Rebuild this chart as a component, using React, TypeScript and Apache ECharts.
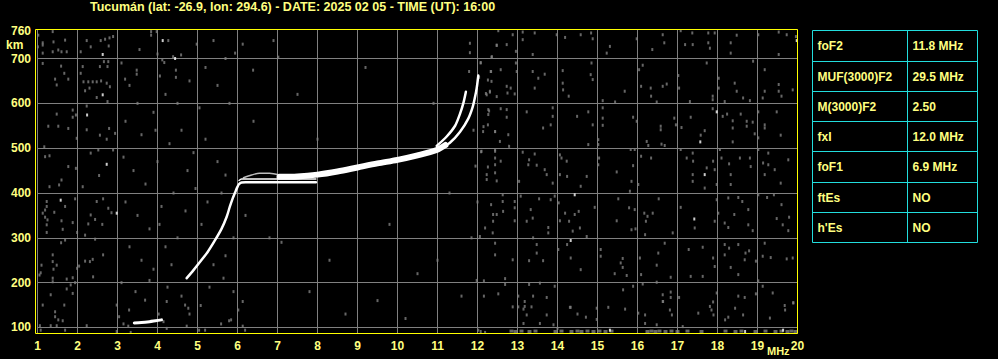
import React, { useEffect, useRef } from 'react';
import * as echarts from 'echarts';

const TITLE = 'Tucumán (lat: -26.9, lon: 294.6) - DATE: 2025 02 05 - TIME (UT): 16:00';
const X_TICKS = [1, 2, 3, 4, 5, 6, 7, 8, 9, 10, 11, 12, 13, 14, 15, 16, 17, 18, 19, 20];
const Y_TICKS = [100, 200, 300, 400, 500, 600, 700];
const Y_TOP_LABEL = 760;
const X_UNIT = 'MHz';
const Y_UNIT = 'km';

const TABLE_PARAMS = ['foF2', 'MUF(3000)F2', 'M(3000)F2', 'fxI', 'foF1', 'ftEs', "h'Es"];
const TABLE_VALUES = ['11.8 MHz', '29.5 MHz', '2.50', '12.0 MHz', '6.9 MHz', 'NO', 'NO'];

// echo traces [MHz, km]
const E_TRACE = [[3.42, 110], [3.6, 111], [3.8, 113], [3.95, 115], [4.1, 117]];
const F_RISE = [
  [4.73, 210], [4.9, 228], [5.06, 246], [5.25, 268], [5.42, 292], [5.6, 320], [5.73, 347],
  [5.81, 370], [5.88, 388], [5.94, 401], [5.99, 412], [6.04, 420], [6.1, 423.5], [6.2, 424], [7.0, 424], [7.96, 424],
];
const F_UPPER_FLAT = [[6.04, 428], [6.1, 431], [7.0, 431], [7.96, 431]];
const F_BUMP = [[6.15, 434], [6.35, 440], [6.55, 444], [6.8, 444], [7.05, 440]];
const F2_BAND = [
  [7.05, 436], [7.5, 437], [8.0, 441], [8.5, 448], [9.0, 457], [9.5, 466], [10.0, 474],
  [10.5, 484], [10.98, 496], [11.2, 507],
];
const F2_BRANCH_A = [[10.98, 505], [11.23, 526], [11.44, 550], [11.56, 576], [11.645, 600], [11.71, 626]];
const F2_BRANCH_B = [
  [11.1, 502], [11.31, 512], [11.56, 536], [11.77, 566], [11.88, 592], [11.94, 615], [11.98, 634], [12.02, 662],
];

// scattered interference dots [MHz, km]
const NOISE_GRAY = [
  [1.02, 752], [1.38, 760], [1.13, 730], [1.01, 726], [1.40, 737], [1.69, 741], [1.52, 719], [1.38, 715], [1.13, 712],
  [1.60, 715], [1.73, 715], [2.08, 715], [2.23, 740], [2.33, 726], [2.58, 740], [2.69, 743], [2.80, 746], [2.89, 749],
  [2.78, 728], [2.77, 693], [2.66, 693], [1.13, 689], [1.59, 683], [2.13, 682], [2.56, 682], [2.75, 682], [1.67, 667],
  [2.08, 667], [1.44, 654], [1.77, 654], [2.15, 648], [2.27, 648], [2.38, 648], [2.48, 648], [2.59, 650], [2.73, 645],
  [1.48, 641], [2.19, 628], [2.30, 634], [2.81, 637], [2.48, 613], [2.75, 604], [2.23, 594], [1.88, 585], [1.96, 574],
  [1.88, 569], [1.48, 576], [1.27, 549], [1.52, 549], [1.77, 544], [2.23, 541], [2.79, 544], [2.94, 533], [1.98, 522],
  [2.56, 529], [2.73, 520], [1.17, 503], [1.19, 481], [1.30, 483], [2.33, 489], [2.52, 496], [2.89, 496], [1.77, 459],
  [1.96, 455], [2.54, 439], [1.60, 429], [1.54, 418], [1.30, 414], [2.13, 414],
  [1.23, 381], [1.23, 370], [1.19, 362], [1.13, 355], [1.19, 346], [1.25, 340], [1.23, 329], [1.69, 370], [1.42, 357],
  [1.60, 338], [1.88, 334], [2.48, 381], [2.64, 387], [2.77, 366], [2.85, 356], [2.33, 351], [2.44, 341], [2.27, 331],
  [2.62, 330], [1.94, 387], [1.63, 319], [1.23, 312], [1.99, 312], [2.19, 306], [2.44, 297], [1.59, 289], [1.69, 295],
  [1.38, 262], [1.38, 247], [1.10, 239], [1.48, 239], [1.40, 230], [1.08, 222], [1.05, 217], [2.04, 237], [1.99, 232],
  [2.19, 248], [2.38, 252], [2.31, 247], [2.64, 262], [2.39, 213], [1.38, 210], [1.38, 202], [1.73, 208], [1.88, 211],
  [1.94, 200], [1.83, 195], [1.73, 186], [1.88, 176], [1.33, 173], [1.13, 150], [1.67, 150], [1.44, 135], [1.44, 124],
  [1.52, 117], [1.63, 115], [1.06, 104], [1.33, 104], [1.48, 104], [2.23, 104], [1.08, 94], [1.69, 94], [2.98, 150],
  [3.04, 124],
  [3.29, 139], [3.15, 108], [3.27, 103], [2.98, 91], [3.33, 89], [3.69, 161], [4.03, 130], [4.15, 113], [4.23, 158],
  [4.23, 98], [4.69, 150], [4.77, 143], [4.80, 130], [4.73, 103], [5.08, 149], [5.04, 94], [5.19, 94], [5.59, 108],
  [5.79, 115], [5.84, 117], [6.02, 139], [6.13, 158], [6.13, 103], [6.19, 94], [12.02, 94], [12.08, 91], [12.19, 89],
  [1.13, 735], [3.84, 760], [3.84, 752], [3.98, 760], [4.27, 740], [4.12, 697], [4.39, 704], [4.59, 708], [4.98, 732],
  [4.17, 691], [3.48, 674], [3.48, 665], [4.06, 661], [4.46, 674], [4.46, 658], [3.19, 654], [5.94, 712], [6.13, 732],
  [6.39, 674], [7.02, 703], [11.81, 734], [11.81, 713], [12.08, 691], [11.79, 671], [12.33, 671], [12.36, 704],
  [12.04, 658], [12.48, 730],
  [3.1, 690], [3.3, 640], [3.5, 600], [3.2, 560], [3.6, 530], [3.9, 580], [4.2, 620], [4.5, 600], [4.8, 650], [5.2, 680],
  [5.5, 640], [5.8, 600], [3.15, 480], [3.4, 450], [3.7, 420], [4.0, 470], [4.3, 510], [4.6, 540], [4.9, 490],
  [5.2, 520], [5.5, 470], [5.7, 440], [3.2, 380], [3.5, 350], [3.8, 320], [4.1, 370], [4.4, 400], [4.7, 360],
  [4.95, 410], [5.25, 380], [5.6, 400], [3.3, 280], [3.6, 250], [3.9, 230], [4.2, 280], [4.5, 300], [4.35, 240],
  [5.1, 330], [5.4, 240], [5.7, 260], [5.9, 300], [3.1, 200], [3.45, 180], [3.8, 205], [4.25, 190], [4.6, 170],
  [5.3, 190], [5.65, 210], [5.9, 180], [4.05, 330], [3.95, 540], [4.75, 450], [5.05, 590], [3.55, 720], [4.0, 710],
  [5.4, 740], [5.7, 700],
  [6.4, 560], [6.8, 300], [7.1, 290], [7.5, 620], [8.3, 250], [9.2, 680], [9.8, 330], [10.5, 220], [10.9, 600],
  [11.3, 400], [6.2, 350], [7.8, 180], [8.7, 130], [9.5, 160], [10.2, 120], [11.0, 250], [11.6, 170], [6.9, 740],
  [8.0, 520], [11.9, 540], [11.95, 460], [12.0, 380], [11.85, 300], [11.98, 205],
  [12.26, 652], [12.31, 625], [12.21, 622], [12.48, 615], [12.29, 583], [12.15, 548], [12.26, 552], [12.44, 537],
  [12.09, 492], [12.44, 496], [12.44, 478], [12.26, 458],
  [12.88, 146], [13.02, 146], [13.15, 141], [13.23, 128], [13.15, 109], [13.35, 146], [13.56, 109], [13.73, 128],
  [13.90, 106], [14.00, 98], [14.33, 145], [14.50, 130], [14.71, 123], [14.98, 143], [14.98, 118], [15.69, 141],
  [16.02, 132], [16.19, 128], [16.19, 109], [16.48, 106], [16.64, 158], [16.81, 139], [16.86, 128], [17.13, 102],
  [17.52, 132], [17.85, 139], [17.90, 128], [18.19, 117], [18.27, 123], [18.44, 143], [18.64, 128], [19.31, 121],
  [19.69, 139], [19.90, 155],
  [12.52, 762], [12.88, 753], [13.13, 759], [13.13, 742], [13.43, 757], [13.98, 753], [14.19, 747], [14.58, 753],
  [14.84, 757], [14.88, 744], [15.31, 727], [15.23, 712], [15.98, 744], [16.37, 720], [16.63, 753], [16.67, 735],
  [17.08, 762], [17.19, 731], [17.37, 757], [17.38, 731], [17.77, 757], [17.77, 735], [17.81, 723], [17.93, 757],
  [18.33, 735], [18.33, 712], [18.48, 752], [19.02, 753], [19.53, 759], [19.53, 709], [19.73, 753], [19.96, 749],
  [12.48, 729], [12.73, 731], [12.96, 716], [13.38, 709], [12.35, 703],
  [12.08, 690], [12.34, 671], [12.35, 649], [12.31, 627], [12.23, 619], [12.58, 675], [12.73, 638], [12.75, 623],
  [12.83, 634], [12.93, 621], [12.96, 690], [12.98, 671], [13.38, 671], [13.52, 656], [13.68, 665], [13.43, 634],
  [14.13, 673], [14.13, 645], [14.14, 630], [14.28, 616], [14.85, 690], [14.88, 653], [14.83, 664], [15.68, 627],
  [16.04, 675], [16.13, 685], [16.09, 638], [16.33, 634], [16.34, 616], [16.63, 638], [16.73, 643], [17.02, 662],
  [17.04, 634], [17.31, 604], [17.73, 690], [17.88, 616], [17.88, 608], [18.03, 656], [18.03, 634], [18.18, 604],
  [18.43, 645], [18.48, 627], [18.64, 612], [18.81, 606], [18.89, 694], [19.18, 675], [19.18, 627], [19.13, 612],
  [19.53, 642], [19.53, 627], [19.60, 616], [19.88, 630], [15.13, 606], [15.44, 603], [16.48, 603],
  [12.27, 586], [12.27, 575], [12.73, 586], [12.73, 569], [12.58, 588], [13.23, 581], [13.88, 590], [13.88, 571],
  [13.83, 552], [13.64, 545], [14.49, 571], [14.77, 581], [14.88, 552], [15.13, 590], [15.13, 567], [15.13, 551],
  [15.89, 569], [15.98, 560], [16.23, 515], [16.27, 506], [16.58, 549], [16.58, 541], [16.60, 509], [16.68, 506],
  [16.92, 567], [16.96, 552], [17.10, 546], [17.33, 569], [17.58, 529], [17.68, 539], [17.88, 588], [18.13, 571],
  [18.24, 576], [18.38, 561], [18.38, 545], [18.38, 514], [18.58, 576], [18.73, 560], [18.73, 549], [18.88, 558],
  [18.93, 532], [19.02, 581], [19.02, 523], [19.18, 552], [19.18, 545], [19.48, 581], [19.58, 529], [12.77, 530],
  [12.79, 504], [12.44, 537], [12.14, 537], [14.77, 508], [15.02, 519], [15.02, 508], [12.56, 515],
  [12.10, 493], [12.44, 493], [12.44, 463], [12.44, 445], [12.23, 441], [12.23, 430], [12.58, 471], [12.48, 427],
  [13.13, 491], [13.29, 474], [13.27, 463], [13.43, 487], [13.48, 462], [13.04, 426], [13.68, 452], [13.73, 441],
  [13.88, 422], [14.06, 485], [14.10, 478], [14.23, 471], [14.24, 437], [14.06, 441], [14.73, 437], [14.58, 415],
  [15.04, 478], [15.02, 463], [15.48, 447], [15.83, 497], [15.93, 497], [15.89, 461], [15.85, 426], [15.81, 404],
  [16.09, 482], [16.34, 478], [16.02, 419], [17.08, 497], [17.23, 478], [17.38, 489], [17.39, 471], [17.38, 441],
  [17.38, 426], [17.73, 456], [17.89, 471], [17.93, 452], [17.98, 419], [17.68, 411], [18.06, 497], [18.10, 478],
  [18.29, 465], [18.33, 441], [18.33, 419], [18.56, 478], [18.81, 478], [18.83, 459], [19.02, 497], [19.14, 467],
  [19.18, 441], [19.27, 489], [19.27, 463], [19.43, 452], [19.58, 422], [19.77, 474],
  [12.63, 396], [12.63, 381], [12.34, 374], [12.39, 352], [12.39, 337], [12.48, 352], [12.64, 359], [12.93, 381],
  [12.93, 367], [12.93, 338], [13.08, 393], [13.33, 363], [13.38, 344], [13.23, 337], [13.54, 387], [13.83, 385],
  [13.93, 393], [14.03, 378], [14.19, 355], [14.53, 359], [14.43, 352], [14.29, 337], [14.38, 315], [14.56, 322],
  [14.73, 303], [14.93, 368], [15.52, 387], [15.48, 338], [15.79, 367], [15.93, 363], [16.17, 355], [16.25, 348],
  [16.21, 337], [16.19, 307], [16.38, 355], [16.53, 387], [16.88, 311], [17.08, 368], [17.43, 322], [17.93, 337],
  [17.98, 385], [18.02, 355], [18.18, 333], [18.27, 389], [18.27, 323], [18.42, 352], [18.52, 390], [18.62, 381],
  [18.77, 363], [18.77, 329], [18.88, 316], [19.02, 396], [19.24, 390], [19.41, 396], [19.48, 343], [19.60, 374],
  [19.63, 329], [19.79, 346], [19.77, 316], [12.19, 322], [12.38, 311], [12.06, 303], [13.39, 300], [13.77, 323],
  [13.77, 311], [14.06, 338], [15.85, 318], [15.95, 320],
  [12.44, 288], [12.44, 262], [12.88, 251], [13.29, 249], [13.48, 285], [13.48, 266], [13.64, 249], [14.02, 274],
  [14.24, 285], [14.33, 255], [14.58, 229], [15.08, 274], [15.08, 259], [15.43, 220], [15.58, 244], [15.63, 234],
  [15.63, 254], [15.73, 216], [16.06, 255], [16.09, 218], [16.52, 266], [16.48, 239], [16.68, 288], [16.83, 212],
  [17.28, 274], [17.33, 214], [17.63, 279], [17.63, 214], [17.89, 255], [17.93, 236], [18.18, 285], [18.18, 262],
  [18.29, 277], [18.33, 234], [18.52, 285], [18.52, 218], [18.70, 266], [18.68, 251], [18.79, 271], [18.96, 248],
  [19.13, 259], [19.33, 256], [19.73, 253], [19.88, 255], [19.18, 288], [12.16, 204], [12.69, 209], [12.69, 196],
  [13.29, 196], [13.56, 199], [13.93, 192], [12.52, 175], [12.16, 170], [13.02, 170], [13.18, 158], [13.18, 147],
  [13.39, 170], [13.73, 167], [14.31, 145], [15.27, 145], [15.64, 184], [15.89, 192], [16.13, 197], [16.48, 201],
  [16.63, 173], [16.63, 158], [16.83, 179], [16.83, 167], [17.04, 167], [17.89, 157], [17.81, 147], [17.98, 177],
  [18.52, 170], [18.68, 167], [18.96, 175], [19.02, 204], [19.13, 192], [19.38, 177], [19.89, 155], [19.68, 149],
];

const NOISE_FLOOR = [
  [12.85, 92], [12.95, 91], [13.1, 92], [13.3, 91], [13.45, 92], [13.95, 91], [14.1, 92], [14.35, 91], [14.5, 92],
  [14.6, 91], [14.75, 92], [14.9, 91], [15.05, 92], [15.2, 91], [15.35, 92], [16.25, 91], [16.35, 92], [16.45, 91],
  [16.55, 92], [16.7, 91], [16.85, 92], [17.0, 91], [17.25, 92], [17.6, 91], [18.2, 92], [18.45, 91], [18.6, 92],
  [18.95, 91], [19.2, 92], [19.45, 91], [19.6, 92], [19.75, 91], [19.85, 92], [19.95, 91],
];

const NOISE_WHITE = [
  [2.63, 709], [2.63, 619], [2.24, 574], [2.73, 464], [1.58, 384], [2.98, 355], [15.31, 94], [18.69, 91], [19.64, 94],
  [4.13, 740], [4.44, 700], [19.98, 740], [17.57, 514], [17.98, 581], [17.68, 441], [14.43, 396], [17.42, 342],
  [14.33, 294],
];

export default function App() {
  const ref = useRef<HTMLDivElement>(null);

  useEffect(() => {
    document.body.style.margin = '0';
    document.body.style.background = '#000';
    const chart = echarts.init(ref.current as HTMLDivElement, null, { renderer: 'svg' });
    const font = 'Liberation Sans, Arial, sans-serif';
    const yellow = '#ffff80';
    const cyan = '#22dddd';
    const gridGray = '#808080';

    const tableLeft = 812.5;
    const tableRight = 977.5;
    const tableDiv = 907.5;
    const rowEdges = [30.5, 61.5, 91.5, 121.5, 151.5, 182.5, 212.5, 242.5];

    const graphic: any[] = [
      {
        type: 'rect',
        shape: { x: 35.5, y: 29.5, width: 762, height: 304 },
        style: { fill: 'none', stroke: '#ffff00', lineWidth: 1 },
        silent: true,
        z: 100,
      },
      {
        type: 'text',
        x: 6,
        y: 45,
        style: { text: Y_UNIT, fill: yellow, fontSize: 12, fontWeight: 'bold', fontFamily: font, verticalAlign: 'middle' },
      },
      {
        type: 'text',
        x: 767,
        y: 351,
        style: { text: X_UNIT, fill: yellow, fontSize: 11, fontWeight: 'bold', fontFamily: font, verticalAlign: 'middle' },
      },
      {
        type: 'rect',
        shape: { x: tableLeft, y: rowEdges[0], width: tableRight - tableLeft, height: rowEdges[7] - rowEdges[0] },
        style: { fill: 'none', stroke: cyan, lineWidth: 1 },
      },
      {
        type: 'line',
        shape: { x1: tableDiv, y1: rowEdges[0], x2: tableDiv, y2: rowEdges[7] },
        style: { stroke: cyan, lineWidth: 1 },
      },
    ];
    for (let i = 1; i < rowEdges.length - 1; i++) {
      graphic.push({
        type: 'line',
        shape: { x1: tableLeft, y1: rowEdges[i], x2: tableRight, y2: rowEdges[i] },
        style: { stroke: cyan, lineWidth: 1 },
      });
    }
    TABLE_PARAMS.forEach((p, i) => {
      const cy = (rowEdges[i] + rowEdges[i + 1]) / 2;
      graphic.push({
        type: 'text',
        x: 817.5,
        y: cy,
        style: { text: p, fill: yellow, fontSize: 12, fontWeight: 'bold', fontFamily: font, verticalAlign: 'middle' },
      });
      graphic.push({
        type: 'text',
        x: 912.5,
        y: cy,
        style: {
          text: TABLE_VALUES[i],
          fill: yellow,
          fontSize: 12,
          fontWeight: 'bold',
          fontFamily: font,
          verticalAlign: 'middle',
        },
      });
    });

    const trace = (data: number[][], width: number, color = '#ffffff') => ({
      type: 'line',
      data,
      showSymbol: false,
      symbol: 'none',
      smooth: 0.3,
      silent: true,
      z: 5,
      lineStyle: { color, width, cap: 'round', join: 'round' },
    });
    const dots = (data: number[][], color: string, size: number[]) => ({
      type: 'scatter',
      data,
      symbol: 'rect',
      symbolSize: size,
      silent: true,
      z: 2,
      itemStyle: { color },
    });

    chart.setOption({
      animation: false,
      backgroundColor: '#000000',
      title: {
        text: TITLE,
        left: 90,
        top: 0,
        padding: 0,
        textStyle: { color: yellow, fontSize: 12.5, fontWeight: 'bold', fontFamily: font },
      },
      grid: { left: 37.5, right: 200.5, top: 29.5, bottom: 25.5, containLabel: false },
      xAxis: {
        type: 'value',
        min: X_TICKS[0],
        max: X_TICKS[X_TICKS.length - 1],
        interval: 1,
        axisLine: { show: false },
        axisTick: { show: false },
        axisLabel: { color: yellow, fontSize: 12, fontWeight: 'bold', fontFamily: font, margin: 6 },
        splitLine: { show: true, lineStyle: { color: gridGray, width: 1 } },
      },
      yAxis: {
        type: 'value',
        min: 86.6,
        max: 764.7,
        axisLine: { show: false },
        axisTick: { show: false, customValues: Y_TICKS },
        axisLabel: {
          customValues: [...Y_TICKS, 762],
          formatter: (v: number) => (v > 750 ? String(Y_TOP_LABEL) : String(v)),
          color: yellow,
          fontSize: 12,
          fontWeight: 'bold',
          fontFamily: font,
          margin: 6.5,
        },
        splitLine: { show: true, lineStyle: { color: gridGray, width: 1 } },
      },
      graphic,
      series: [
        dots(NOISE_GRAY, '#808080', [2, 3]),
        dots(NOISE_FLOOR, '#808080', [4, 3]),
        dots(NOISE_WHITE, '#ffffff', [2, 3]),
        trace(E_TRACE, 3),
        trace(F_BUMP, 1.5, '#bdbdbd'),
        trace(F_UPPER_FLAT, 1.5),
        trace(F_RISE, 2.5),
        trace(F2_BAND, 6),
        trace(F2_BRANCH_A, 2.5),
        trace(F2_BRANCH_B, 2.5),
      ],
    });

    return () => {
      chart.dispose();
    };
  }, []);

  return <div ref={ref} style={{ width: 998, height: 359, background: '#000' }} />;
}
